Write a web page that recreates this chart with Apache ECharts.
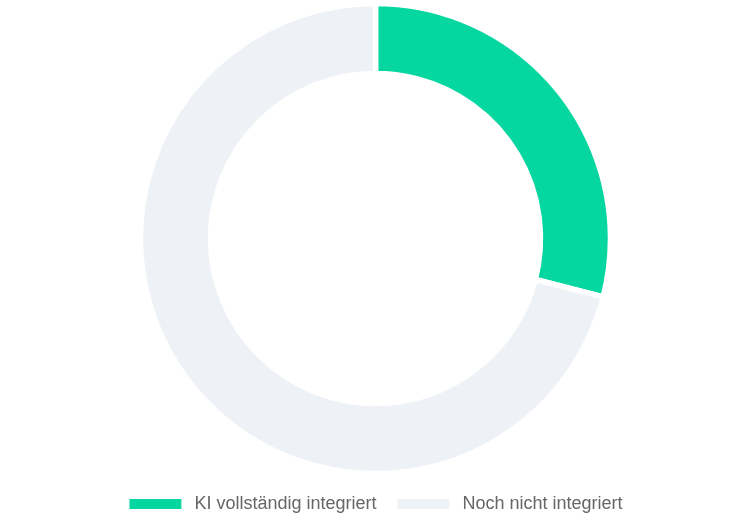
<!DOCTYPE html>
<html>
<head>
<meta charset="utf-8">
<script src="https://cdn.jsdelivr.net/npm/echarts@6/dist/echarts.min.js"></script>
<style>html,body{margin:0;padding:0;background:#fff;}#c{width:750px;height:525px;}</style>
</head>
<body>
<div id="c"></div>
<script>
const categories = ['KI vollständig integriert', 'Noch nicht integriert'];
const values = [29, 71];
const colors = ['#06d6a0', '#eef1f6'];

const chart = echarts.init(document.getElementById('c'), null, {renderer: 'canvas'});
chart.setOption({
  animation: false,
  color: colors,
  legend: {
    data: categories,
    top: 490,
    left: 'center',
    itemWidth: 54,
    itemHeight: 12,
    itemGap: 19,
    icon: 'rect',
    textStyle: {color: '#666', fontSize: 18, fontFamily: 'Liberation Sans, Arial, sans-serif', padding: [0, 0, 0, 7]}
  },
  series: [{
    type: 'pie',
    center: [375.5, 238.5],
    radius: [165, 235],
    startAngle: 90,
    clockwise: true,
    label: {show: false},
    labelLine: {show: false},
    emphasis: {disabled: true},
    itemStyle: {borderColor: '#fff', borderWidth: 5.5},
    data: categories.map((n, i) => ({name: n, value: values[i]}))
  }]
});
</script>
</body>
</html>
